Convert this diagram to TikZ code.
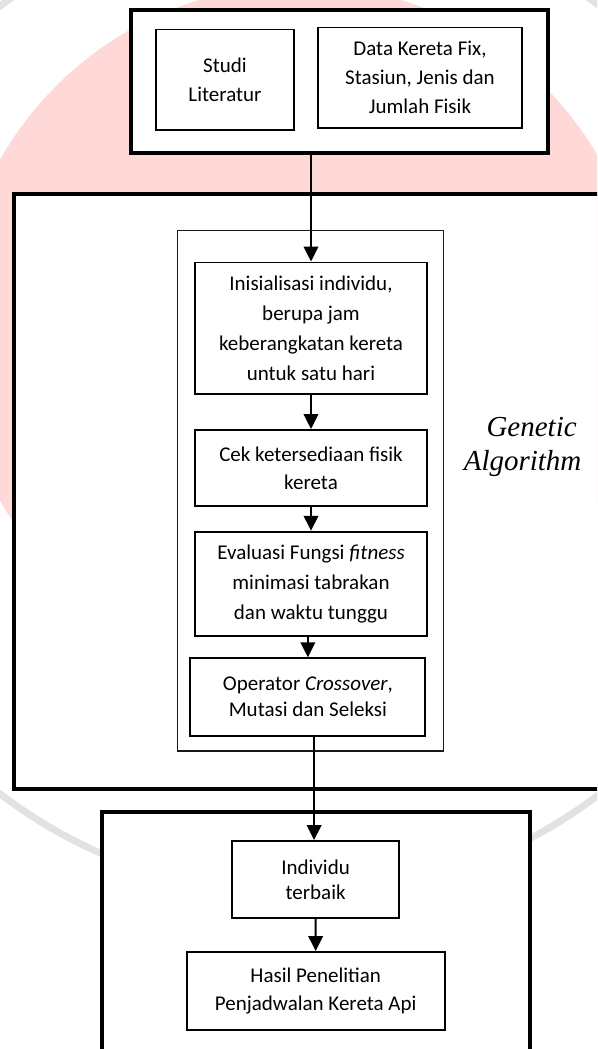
\documentclass[tikz,border=0pt]{standalone}
\usepackage{fontspec}
\setmainfont{Carlito}
\newfontfamily\tnrfont{Liberation Serif}
\usetikzlibrary{arrows.meta}
\definecolor{wmpink}{HTML}{FFD8D8}
\definecolor{wmgray}{HTML}{E2E2E2}
\tikzset{
  outerbox/.style={draw=black, line width=4pt, fill=white, inner sep=0pt},
  grpbox/.style={draw=black!90, line width=1.8pt, fill=white, inner sep=0pt},
  stepbox/.style={draw=black, line width=1.9pt, fill=white, align=center, inner sep=0pt},
  arr/.style={line width=2pt, -{Triangle[width=14.5pt,length=15pt]}},
  galabel/.style={font=\tnrfont\itshape\fontsize{29}{34}\selectfont, anchor=base, inner sep=0pt},
}
\begin{document}
\begin{tikzpicture}[x=1pt,y=-1pt]
\useasboundingbox (0,0) rectangle (597,1049);
\clip (0,0) rectangle (597,1049);
% faint watermark in the background
\fill[wmpink] (300,330) circle[radius=345];
\draw[wmgray, line width=7pt] (300,400) circle[radius=495];

% top group
\node[outerbox, minimum width=417pt, minimum height=143pt] (top) at (339.5,81.5) {};
\node[stepbox, minimum width=138pt, minimum height=100.5pt, font=\fontsize{21}{28.5}\selectfont] (studi) at (225,79.75) {Studi\\Literatur};
\node[stepbox, minimum width=204pt, minimum height=100.5pt, font=\fontsize{21}{29}\selectfont] (data) at (420,77.75) {Data Kereta Fix,\\Stasiun, Jenis dan\\Jumlah Fisik};

% genetic algorithm group
\node[outerbox, minimum width=606.5pt, minimum height=595.5pt] (ga) at (316.75,491.25) {};
\node[grpbox, minimum width=266pt, minimum height=520.2pt] (inner) at (310.5,490.6) {};
\node[stepbox, minimum width=232pt, minimum height=131.8pt, font=\fontsize{21}{30}\selectfont] (ini) at (311,328.4) {Inisialisasi individu,\\berupa jam\\keberangkatan kereta\\untuk satu hari};
\node[stepbox, minimum width=232pt, minimum height=76pt, font=\fontsize{21}{28.3}\selectfont] (cek) at (311,468) {Cek ketersediaan fisik\\kereta};
\node[stepbox, minimum width=232pt, minimum height=104pt, font=\fontsize{21}{30}\selectfont] (eval) at (311,583.7) {Evaluasi Fungsi \textit{fitness}\\minimasi tabrakan\\dan waktu tunggu};
\node[stepbox, minimum width=235pt, minimum height=77.4pt, font=\fontsize{21}{26}\selectfont] (op) at (307.9,697) {Operator \textit{Crossover},\\Mutasi dan Seleksi};
\node[galabel] (gen) at (531.6,436.7) {Genetic};
\node[galabel] (alg) at (522.6,470) {Algorithm};

% result group
\node[outerbox, minimum width=428pt, minimum height=257pt] (res) at (316,940) {};
\node[stepbox, minimum width=166.7pt, minimum height=77pt, font=\fontsize{21}{24.7}\selectfont] (ind) at (315.6,879.5) {Individu\\terbaik};
\node[stepbox, minimum width=258.2pt, minimum height=78pt, font=\fontsize{21}{28.3}\selectfont] (hasil) at (315.7,991) {Hasil Penelitian\\Penjadwalan Kereta Api};

% connectors
\draw[arr] (ini.north |- top.south) -- (ini.north);
\draw[arr] (ini.south) -- (cek.north);
\draw[arr] (cek.south) -- (eval.north);
\draw[arr] (op.north |- eval.south) -- (op.north);
\draw[arr] ([xshift=-1.5pt]ind.north |- op.south) -- ([xshift=-1.5pt]ind.north);
\draw[arr] (ind.south) -- (hasil.north);
\end{tikzpicture}
\end{document}
